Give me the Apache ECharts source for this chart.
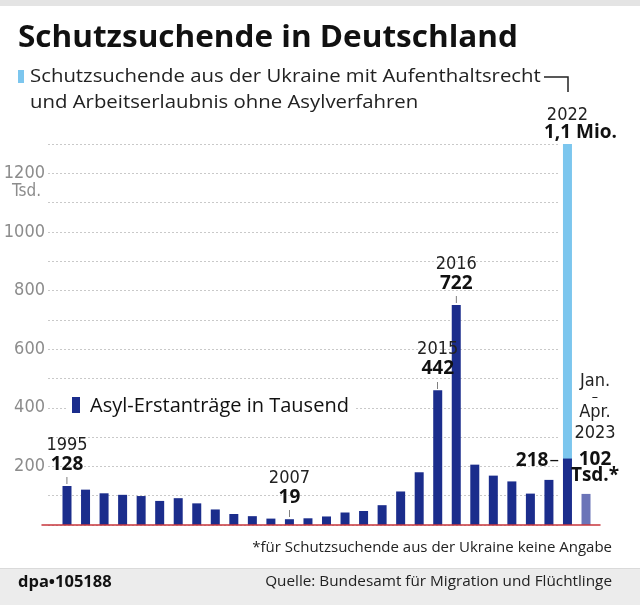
<!DOCTYPE html>
<html>
<head>
<meta charset="utf-8">
<script src="https://cdn.jsdelivr.net/npm/echarts@6/dist/echarts.min.js"></script>
<style>html,body{margin:0;padding:0;background:#fff}#c{width:640px;height:605px}</style>
</head>
<body>
<div id="c"></div>
<script>
// ---- data ----
const categories = ['1995','1996','1997','1998','1999','2000','2001','2002','2003','2004','2005','2006','2007','2008','2009','2010','2011','2012','2013','2014','2015','2016','2017','2018','2019','2020','2021','2022','Jan.–Apr. 2023'];
const asylErstantraege = [128,116,104,99,95,79,88,71,51,36,29,21,19,22,28,41,46,65,110,173,442,722,198,162,143,103,148,218,102];
const ukraineCategory = '2022';
const ukraine = 1100;
const yTicks = [200,400,600,800,1000,1200];

// ---- styles ----
const DARK = '#1b2d8c', LIGHT = '#7cc6ee', PALE = '#6b74b8', RED = '#c8363c';
const NARROW = '"Liberation Sans Narrow", "DejaVu Sans Condensed", sans-serif';
const SANS = '"Open Sans", "Noto Sans", sans-serif';

const chart = echarts.init(document.getElementById('c'));
const uIdx = categories.indexOf(ukraineCategory);
const lastIdx = categories.length - 1;

const yearRich = {
  y: {fontFamily: NARROW, fontSize: 18, color: '#222', lineHeight: 19},
  v: {fontFamily: SANS, fontSize: 19, fontWeight: 'bold', color: '#111', lineHeight: 19},
  t: {fontFamily: SANS, fontSize: 8, color: '#111', lineHeight: 12}
};
const labelled = ['1995','2007','2015','2016'];

const darkData = categories.map((c, i) => {
  const item = {value: asylErstantraege[i]};
  if (labelled.includes(c)) {
    item.label = {show: true, position: 'top', distance: 0,
      formatter: '{y|' + c + '}\n{v|' + asylErstantraege[i] + '}\n{t||}', rich: yearRich};
  }
  if (i === uIdx) {
    item.label = {show: true, position: [-4, 2], align: 'right', verticalAlign: 'middle',
      formatter: '{v|' + asylErstantraege[i] + '}{d|–}',
      rich: {v: {fontFamily: SANS, fontSize: 19, fontWeight: 'bold', color: '#111'},
             d: {fontFamily: SANS, fontSize: 19, color: '#111', padding: [0,0,0,1]}}};
  }
  if (i === lastIdx) {
    item.itemStyle = {color: PALE};
    item.label = {show: true, position: 'top', distance: 10, offset: [9, 0],
      formatter: '{a|Jan.}\n{d|–}\n{a|Apr.}\n{a|2023}\n{g| }\n{v|' + asylErstantraege[i] + '}\n{v|Tsd.*}',
      rich: {
        a: {fontFamily: NARROW, fontSize: 18, color: '#222', lineHeight: 21},
        d: {fontFamily: NARROW, fontSize: 14, color: '#222', lineHeight: 10},
        g: {fontSize: 6, lineHeight: 8},
        v: {fontFamily: SANS, fontSize: 19, fontWeight: 'bold', color: '#111', lineHeight: 16}
      }};
  }
  return item;
});
const baseData = categories.map((c, i) => (i === uIdx ? asylErstantraege[i] : '-'));
const ukraineData = categories.map((c, i) => (i === uIdx ? {value: ukraine, label: {show: true, position: 'top', distance: 3,
  formatter: '{y|' + ukraineCategory + '}\n{v|1,1 Mio.}',
  rich: {y: {fontFamily: NARROW, fontSize: 18, color: '#222', lineHeight: 18},
         v: {fontFamily: SANS, fontSize: 19, fontWeight: 'bold', color: '#111', lineHeight: 17, padding: [0,0,0,26]}}}} : '-'));

const GTOP = 144, GH = 381;
const option = {
  animation: false,
  grid: [
    {left: 48, top: GTOP, width: 512, height: GH},
    {left: 57.73, top: GTOP, width: 537.54, height: GH},
    {left: 42, top: GTOP, width: 558, height: GH}
  ],
  xAxis: [
    {gridIndex: 0, type: 'value', show: false, min: 0, max: 1},
    {gridIndex: 1, type: 'category', data: categories, show: false},
    {gridIndex: 2, type: 'value', min: 0, max: 1, z: 5,
     axisLine: {show: true, onZero: false, lineStyle: {color: RED, width: 1.5}},
     axisTick: {show: false}, axisLabel: {show: false}, splitLine: {show: false}}
  ],
  yAxis: [
    {gridIndex: 0, type: 'value', min: 0, max: 1300, interval: 100,
     axisLine: {show: false}, axisTick: {show: false},
     axisLabel: {margin: 3, fontFamily: NARROW, fontSize: 18, color: '#8c8c8c',
       formatter: v => (yTicks.includes(v) ? String(v) : '')},
     splitLine: {show: true, lineStyle: {color: '#c9c9c9', type: [2, 2], width: 1}}},
    {gridIndex: 1, type: 'value', min: 0, max: 1250, show: false},
    {gridIndex: 1, type: 'value', min: 0, max: 1300, show: false},
    {gridIndex: 2, type: 'value', min: 0, max: 1, show: false}
  ],
  series: [
    {type: 'bar', name: 'base', xAxisIndex: 1, yAxisIndex: 2, stack: 'u', barWidth: 9, barGap: '-100%',
     itemStyle: {color: 'rgba(0,0,0,0)'}, data: baseData, z: 1},
    {type: 'bar', name: 'Ukraine', xAxisIndex: 1, yAxisIndex: 2, stack: 'u', barWidth: 9, barGap: '-100%',
     itemStyle: {color: LIGHT}, z: 1, data: ukraineData},
    {type: 'bar', name: 'Asyl', xAxisIndex: 1, yAxisIndex: 1, barWidth: 9, barGap: '-100%',
     itemStyle: {color: DARK}, z: 3, data: darkData}
  ],
  graphic: [
    {type: 'rect', shape: {x: 0, y: 0, width: 640, height: 6}, style: {fill: '#e4e4e4'}, silent: true},
    {type: 'text', x: 18, y: 38, scaleX: 1.05, style: {text: 'Schutzsuchende in Deutschland', font: 'bold 30px ' + SANS, fill: '#111', textVerticalAlign: 'middle', verticalAlign: 'middle'}},
    {type: 'rect', shape: {x: 18, y: 70, width: 6, height: 13}, style: {fill: LIGHT}},
    {type: 'text', x: 30, y: 77, scaleX: 1.1, style: {text: 'Schutzsuchende aus der Ukraine mit Aufenthaltsrecht', font: '18.5px ' + SANS, fill: '#222', textVerticalAlign: 'middle', verticalAlign: 'middle'}},
    {type: 'text', x: 30, y: 103, scaleX: 1.1, style: {text: 'und Arbeitserlaubnis ohne Asylverfahren', font: '18.5px ' + SANS, fill: '#222', textVerticalAlign: 'middle', verticalAlign: 'middle'}},
    {type: 'polyline', shape: {points: [[544, 77], [568, 77], [568, 92]]}, style: {stroke: '#222', lineWidth: 1.5, fill: null}},
    {type: 'text', x: 41, y: 192, style: {text: 'Tsd.', font: '17px ' + NARROW, fill: '#8c8c8c', textAlign: 'right', align: 'right', textVerticalAlign: 'middle', verticalAlign: 'middle'}},
    {type: 'rect', z: 10, shape: {x: 67, y: 395, width: 287, height: 24}, style: {fill: '#ffffff'}, silent: true},
    {type: 'rect', z: 11, shape: {x: 72, y: 397, width: 8, height: 16}, style: {fill: DARK}},
    {type: 'text', z: 11, x: 90, y: 406, style: {text: 'Asyl-Erstanträge in Tausend', font: '20px ' + SANS, fill: '#111', textVerticalAlign: 'middle', verticalAlign: 'middle'}},
    {type: 'text', x: 612, y: 548, style: {text: '*für Schutzsuchende aus der Ukraine keine Angabe', font: '15px ' + SANS, fill: '#222', textAlign: 'right', align: 'right', textVerticalAlign: 'middle', verticalAlign: 'middle'}},
    {type: 'rect', shape: {x: 0, y: 569, width: 640, height: 36}, style: {fill: '#ececec'}, silent: true},
    {type: 'rect', shape: {x: 0, y: 568, width: 640, height: 1}, style: {fill: '#dadada'}, silent: true},
    {type: 'text', x: 18, y: 582, style: {text: 'dpa•105188', font: 'bold 16.5px ' + SANS, fill: '#111', textVerticalAlign: 'middle', verticalAlign: 'middle'}},
    {type: 'text', x: 612, y: 582, style: {text: 'Quelle: Bundesamt für Migration und Flüchtlinge', font: '15.3px ' + SANS, fill: '#222', textAlign: 'right', align: 'right', textVerticalAlign: 'middle', verticalAlign: 'middle'}}
  ]
};
chart.setOption(option);
</script>
</body>
</html>
